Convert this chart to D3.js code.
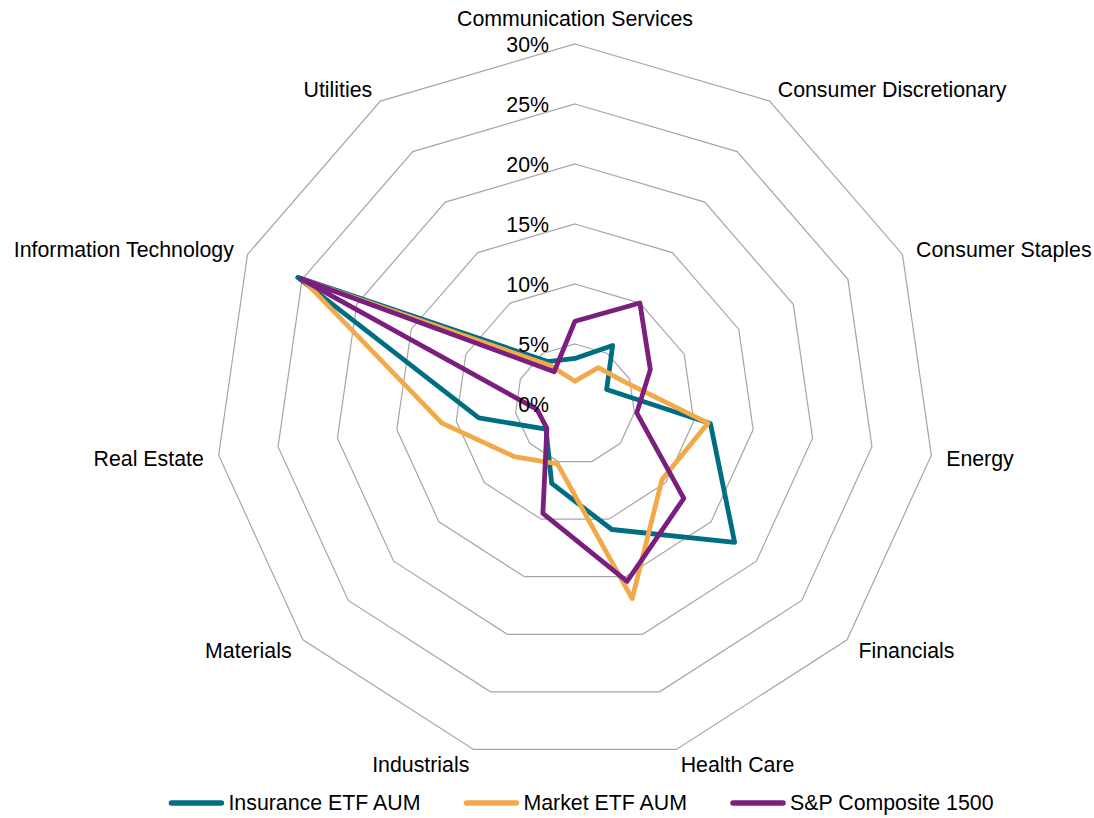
<!DOCTYPE html>
<html>
<head>
    <meta charset="utf-8" />
    <title>Sector weights radar</title>
    <script src="https://d3js.org/d3.v7.min.js"></script>
    <style>
        body { margin: 0; background: #fff; }
        svg { display: block; }
        text {
            font-family: "Liberation Sans", Arial, sans-serif;
            font-size: 21.33px;
            fill: #000;
        }
        .grid path {
            fill: none;
            stroke: #a6a6a6;
            stroke-width: 1.2px;
        }
        .series path {
            fill: none;
            stroke-width: 4.8px;
            stroke-linejoin: round;
        }
    </style>
</head>
<body>
    <div id="chart"></div>
    <script>
        // sectors, clockwise from the top
        const categories = [
            "Communication Services", "Consumer Discretionary", "Consumer Staples",
            "Energy", "Financials", "Health Care", "Industrials", "Materials",
            "Real Estate", "Information Technology", "Utilities"
        ];

        // weights in %
        const insuranceEtf = [3.8, 5.8, 2.9, 11.4, 17.6, 10.9, 6.9, 3.2, 8.1, 25.4, 4.2];
        const marketEtf    = [1.9, 3.6, 4.5, 11.2, 9.6, 16.9, 5.2, 6.7, 11.2, 24.9, 3.8];
        const spComposite  = [6.9, 10.0, 6.9, 5.2, 12.0, 15.4, 9.5, 3.1, 3.2, 25.1, 3.2];

        const seriesNames  = ["Insurance ETF AUM", "Market ETF AUM", "S&P Composite 1500"];
        const seriesColors = ["#006e82", "#f2a94a", "#7a1f7e"];

        const ticks = [0, 5, 10, 15, 20, 25, 30];

        const width = 1094, height = 818;
        const cx = 575, cy = 404;

        const svg = d3.select("#chart").append("svg")
            .attr("width", width)
            .attr("height", height);

        const r = d3.scaleLinear().domain([0, 30]).range([0, 360]);
        const angle = d3.scaleLinear().domain([0, categories.length]).range([0, 2 * Math.PI]);

        const g = svg.append("g").attr("transform", `translate(${cx},${cy})`);

        // grid rings
        const ring = d3.lineRadial()
            .angle((d, i) => angle(i))
            .radius(d => r(d))
            .curve(d3.curveLinearClosed);

        g.append("g").attr("class", "grid")
            .selectAll("path")
            .data(ticks.filter(t => t > 0))
            .enter().append("path")
            .attr("d", t => ring(categories.map(() => t)));

        // series
        const seriesData = [insuranceEtf, marketEtf, spComposite];
        g.append("g").attr("class", "series")
            .selectAll("path")
            .data(seriesData)
            .enter().append("path")
            .attr("stroke", (d, i) => seriesColors[i])
            .attr("d", d => ring(d));

        // radial tick labels
        g.append("g")
            .selectAll("text")
            .data(ticks)
            .enter().append("text")
            .attr("x", -26)
            .attr("y", t => -r(t) + 1)
            .attr("dy", "0.35em")
            .attr("text-anchor", "end")
            .text(t => t + "%");

        // category labels
        const pad = 15;
        g.append("g")
            .selectAll("text")
            .data(categories)
            .enter().append("text")
            .each(function (d, i) {
                const a = angle(i);
                const s = Math.sin(a), c = Math.cos(a);
                const rr = r(30) + pad;
                let y = -rr * c + 1;
                if (Math.abs(s) < 0.05) y -= 11;
                d3.select(this)
                    .attr("x", rr * s)
                    .attr("y", y)
                    .attr("dy", "0.35em")
                    .attr("text-anchor", Math.abs(s) < 0.05 ? "middle" : (s > 0 ? "start" : "end"));
            })
            .text(d => d);

        // legend
        const legend = svg.append("g");
        const items = legend.selectAll("g")
            .data(seriesNames)
            .enter().append("g");
        items.append("line")
            .attr("x1", 3).attr("x2", 53)
            .attr("stroke", (d, i) => seriesColors[i])
            .attr("stroke-width", 5.5)
            .attr("stroke-linecap", "round");
        items.append("text")
            .attr("x", 60)
            .attr("dy", "0.35em")
            .text(d => d);

        let x = 0;
        const offsets = [];
        items.each(function () {
            offsets.push(x);
            const w = d3.select(this).select("text").node().getComputedTextLength();
            x += 60 + w + 43;
        });
        const total = x - 43;
        const startX = 581 - total / 2;
        items.attr("transform", (d, i) => `translate(${startX + offsets[i]},803)`);
    </script>
</body>
</html>
